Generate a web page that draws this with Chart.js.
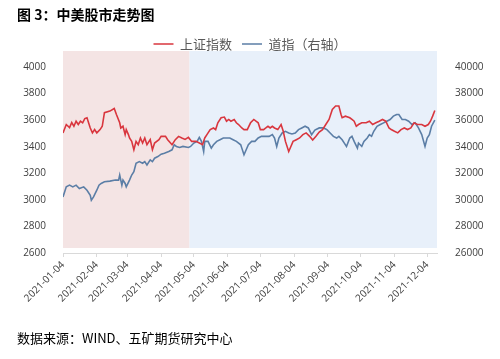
<!DOCTYPE html>
<html><head><meta charset="utf-8">
<script src="https://cdn.jsdelivr.net/npm/chart.js@4.4.1/dist/chart.umd.min.js"></script>
<style>
html,body{margin:0;padding:0;background:#fff;}
#wrap{position:relative;width:500px;height:359px;overflow:hidden;}
canvas{position:absolute;left:0;top:0;}
#title{position:absolute;left:17px;top:7px;font:bold 14px/14px "Noto Sans CJK SC";color:#000;white-space:nowrap;}
#src{position:absolute;left:17px;top:331px;font:13px/13px "Noto Sans CJK SC";color:#000;white-space:nowrap;}
</style></head>
<body>
<div id="wrap">
<canvas id="c" width="500" height="359"></canvas>
<div id="title">图 3：中美股市走势图</div>
<div id="src">数据来源：WIND、五矿期货研究中心</div>
</div>
<script>
// ---- data (x = days since 2021-01-04) ----
const baseDate = '2021-01-04';
const tickDates = ['2021-01-04','2021-02-04','2021-03-04','2021-04-04','2021-05-04','2021-06-04','2021-07-04','2021-08-04','2021-09-04','2021-10-04','2021-11-04','2021-12-04'];
const seriesNames = ['上证指数','道指（右轴）'];

const shDays = [0,3,6,8,10,12,14,16,18,20,22,25,27,29,31,34,36,38,43,47,49,52,53,55,57,58,60,61,63,65,67,69,71,73,75,77,80,82,84,88,90,94,96,100,103,106,109,112,115,118,122,125,128,130,132,135,138,140,142,145,148,150,152,154,157,159,161,164,166,169,172,175,177,179,181,184,186,188,190,192,194,197,200,202,204,207,209,211,214,217,220,223,226,229,232,235,238,241,244,247,250,253,255,256,259,263,265,267,269,271,274,278,281,284,287,290,293,296,299,301,304,307,310,313,316,319,322,325,329,332,335,337,339,341];
const shIndex = [3504,3567,3544,3582,3554,3592,3567,3592,3580,3612,3618,3541,3504,3529,3504,3529,3554,3656,3668,3688,3643,3580,3541,3554,3491,3529,3491,3466,3440,3377,3440,3415,3466,3428,3466,3415,3453,3377,3428,3453,3478,3478,3453,3415,3453,3478,3466,3455,3470,3440,3440,3428,3415,3466,3491,3529,3541,3529,3580,3618,3623,3592,3605,3592,3605,3580,3567,3541,3529,3529,3580,3605,3592,3580,3529,3529,3541,3554,3541,3554,3541,3529,3567,3516,3440,3364,3402,3440,3453,3466,3491,3504,3480,3450,3478,3510,3529,3567,3605,3681,3706,3706,3643,3618,3630,3618,3605,3592,3554,3567,3580,3580,3592,3567,3580,3592,3605,3592,3541,3529,3516,3504,3529,3541,3529,3541,3580,3567,3567,3554,3567,3592,3630,3673];

const djDays = [0,3,6,9,12,15,19,22,25,26,28,31,33,35,38,43,48,51,52,54,55,57,58,61,63,65,67,70,73,75,77,80,82,84,87,90,93,97,100,102,104,107,110,115,117,120,123,125,127,129,130,133,136,138,141,144,147,150,153,156,159,163,164,166,168,170,173,176,179,182,186,189,192,194,196,198,201,204,207,210,213,216,219,222,225,228,231,235,239,242,245,248,251,253,256,258,260,263,265,267,270,271,274,276,279,281,283,285,288,291,294,297,300,303,306,308,311,314,317,320,323,326,329,332,334,336,338,341];
const djIndex = [30219,30980,31108,30980,31108,30853,30980,30727,30347,29968,30219,30727,31108,31235,31361,31412,31488,31488,31868,31108,31488,31235,30980,31488,31868,32121,32755,32881,32755,32881,32628,33008,32881,33135,33261,33438,33515,33641,33768,34148,34021,33945,34021,33945,34021,34275,34401,34705,34401,33641,34401,34401,33894,34148,34401,34528,34655,34655,34655,34528,34401,34148,33894,33388,33768,34148,34401,34401,34655,34781,34781,34781,34908,34655,34021,34655,35035,35161,35035,34959,35035,35288,35415,35541,35415,34908,35250,35415,35415,35288,35035,34781,34655,34781,34528,34275,34021,34655,34781,34401,33894,34275,34021,34401,34655,34908,34781,35161,35541,35668,35795,35921,36048,36301,36428,36428,36048,36048,35921,35668,35795,35415,34908,34021,34655,34908,35541,35997];

// background periods
const shadeStart = ['2021-01-04','2021-04-30'];
const shadeEnd   = ['2021-04-30','2021-12-31'];
const shadeColors = ['#F4E4E4','#E8F0FA'];

const DAY = 86400000;
const baseMs = Date.parse(baseDate);
const toDay = s => Math.round((Date.parse(s) - baseMs) / DAY);
const fmt = d => new Date(baseMs + d*DAY).toISOString().slice(0,10);
const tickDays = tickDates.map(toDay);

const shadePlugin = {
  id:'shade',
  beforeDatasetsDraw(chart){
    const {ctx, chartArea:a, scales:{x}} = chart;
    ctx.save();
    shadeStart.forEach((s,i)=>{
      const x0 = Math.max(a.left, x.getPixelForValue(toDay(s)));
      const x1 = Math.min(a.right, x.getPixelForValue(toDay(shadeEnd[i])));
      ctx.fillStyle = shadeColors[i];
      ctx.fillRect(x0, a.top - 16, x1 - x0, (a.bottom - 5) - (a.top - 16));
    });
    ctx.restore();
  }
};
const legendPad = {
  id:'legendPad',
  afterInit(chart){
    const lg = chart.legend; if(!lg) return;
    const f = lg.fit;
    lg.fit = function(){ f.call(this); this.height += 6.5; };
  }
};

const tickColor = '#595959';
const plain = v => String(v);
new Chart(document.getElementById('c'), {
  type:'line',
  data:{
    datasets:[
      {label:seriesNames[0], data:shDays.map((d,i)=>({x:d,y:shIndex[i]})), yAxisID:'y',
       borderColor:'#D9363E', backgroundColor:'#D9363E', borderWidth:1.6, pointRadius:0, pointStyle:'line', tension:0},
      {label:seriesNames[1], data:djDays.map((d,i)=>({x:d,y:djIndex[i]})), yAxisID:'y1',
       borderColor:'#5B7EA6', backgroundColor:'#5B7EA6', borderWidth:1.6, pointRadius:0, pointStyle:'line', tension:0}
    ]
  },
  options:{
    responsive:false, animation:false, events:[],
    layout:{padding:{top:27.5, bottom:46, left:0, right:0}},
    plugins:{
      legend:{position:'top', align:'center',
        labels:{usePointStyle:true, pointStyleWidth:20, padding:10, color:tickColor,
          font:{family:'"Noto Sans CJK SC"', size:13}}},
      tooltip:{enabled:false}
    },
    scales:{
      x:{type:'linear', min:0, max:343,
        afterBuildTicks(s){ s.ticks = tickDays.map(v=>({value:v})); },
        afterFit(s){ s.height = 60; },
        ticks:{autoSkip:false, minRotation:45, maxRotation:45, color:'#404040', padding:2,
          font:{family:'"Open Sans"', size:10}, callback:v=>fmt(v)},
        grid:{drawOnChartArea:false, drawTicks:true, tickLength:4, color:'#D9D9D9'},
        border:{display:true, color:'#D9D9D9'}},
      y:{position:'left', min:2600, max:4000,
        afterFit(s){ s.width = 63; },
        ticks:{stepSize:200, color:'#404040', padding:9, font:{family:'"Open Sans"', size:10}, callback:plain},
        grid:{display:false}, border:{display:false}},
      y1:{position:'right', min:26000, max:40000,
        afterFit(s){ s.width = 63; },
        ticks:{stepSize:2000, color:'#404040', padding:10, font:{family:'"Open Sans"', size:10}, callback:plain},
        grid:{display:false}, border:{display:false}}
    }
  },
  plugins:[shadePlugin, legendPad]
});
</script>
</body></html>
